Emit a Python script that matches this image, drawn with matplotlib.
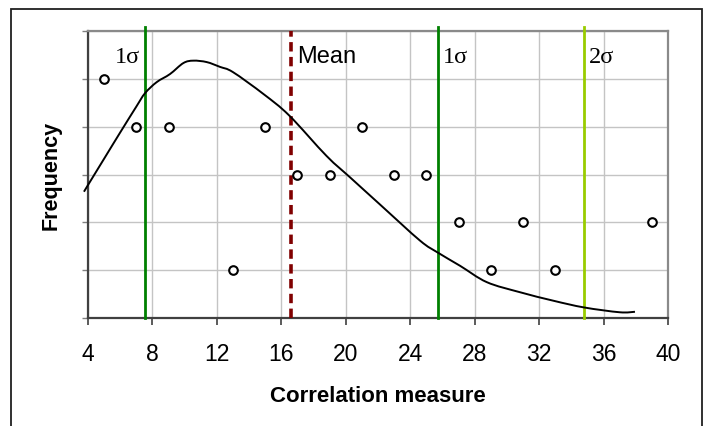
import matplotlib
matplotlib.use("Agg")
import matplotlib.pyplot as plt
from matplotlib.patches import Rectangle, PathPatch
from matplotlib.path import Path

# Observed frequencies of the correlation measure
measure = [5, 7, 9, 13, 15, 17, 19, 21, 23, 25, 27, 29, 31, 33, 39]
frequency = [5, 4, 4, 1, 4, 3, 3, 4, 3, 3, 2, 1, 2, 1, 2]

# Fitted distribution (drawn as a smoothed line)
curve_x = [3.75, 4, 5, 6, 7, 7.54, 8.26, 9.09, 9.92, 10.54, 11.37, 12.19, 13.0, 14.9, 16.5,
           18.8, 20.3, 22.1, 24.6, 25.7, 27.1, 28.75, 30.8, 32.9, 34.8, 37.0, 37.95]
curve_y = [2.64, 2.78, 3.33, 3.88, 4.42, 4.70, 4.93, 5.10, 5.33, 5.38, 5.35, 5.25, 5.14, 4.68, 4.23,
           3.39, 2.93, 2.38, 1.62, 1.37, 1.09, 0.75, 0.54, 0.36, 0.22, 0.12, 0.13]

# Reference markers: mean and sigma bands
mean_x = 16.6
sigma_lines = [7.55, 25.75]
two_sigma_x = 34.8

x_ticks = [4, 8, 12, 16, 20, 24, 28, 32, 36, 40]
y_ticks = [0, 1, 2, 3, 4, 5, 6]


def smooth_path(xs, ys, tension=1 / 6):
    """Bezier path through the points with Catmull-Rom style tangents."""
    pts = list(zip(xs, ys))
    verts = [pts[0]]
    codes = [Path.MOVETO]
    n = len(pts)
    for i in range(n - 1):
        p0 = pts[i - 1] if i > 0 else pts[i]
        p1 = pts[i]
        p2 = pts[i + 1]
        p3 = pts[i + 2] if i + 2 < n else pts[i + 1]
        c1 = (p1[0] + (p2[0] - p0[0]) * tension, p1[1] + (p2[1] - p0[1]) * tension)
        c2 = (p2[0] - (p3[0] - p1[0]) * tension, p2[1] - (p3[1] - p1[1]) * tension)
        verts += [c1, c2, p2]
        codes += [Path.CURVE4] * 3
    return Path(verts, codes)


W, H = 704, 427
fig = plt.figure(figsize=(W / 100, H / 100), dpi=100)
fig.patch.set_facecolor("white")

# Chart-area frame
fig.patches.append(Rectangle((11 / W, -0.05), (702 - 11) / W, (H - 10) / H + 0.05,
                             transform=fig.transFigure, fill=False,
                             edgecolor="#202020", linewidth=1.3))

ax = fig.add_axes([88 / W, (H - 319) / H, (668 - 88) / W, (319 - 32) / H])
ax.set_xlim(4, 40)
ax.set_ylim(0, 6)
ax.set_xticks(x_ticks)
ax.set_yticks(y_ticks)
ax.set_yticklabels([])
ax.grid(True, color="#c4c4c4", linewidth=1.0)
ax.set_axisbelow(True)

for side in ("left", "bottom"):
    ax.spines[side].set_color("#404040")
    ax.spines[side].set_linewidth(1.6)
for side in ("top", "right"):
    ax.spines[side].set_color("#8a8a8a")
    ax.spines[side].set_linewidth(1.6)

ax.tick_params(axis="x", direction="out", length=5, width=1.2, color="#404040",
               labelsize=16.5, pad=12)
ax.tick_params(axis="y", direction="out", length=4, width=1.0, color="#808080")
for lab in ax.get_xticklabels():
    lab.set_family("Liberation Sans")

# Vertical reference lines
top = 6.09
for sx in sigma_lines:
    ax.plot([sx, sx], [0, top], color="#008000", linewidth=2.0, clip_on=False, zorder=3)
ax.plot([two_sigma_x, two_sigma_x], [0, top], color="#99cc00", linewidth=2.0,
        clip_on=False, zorder=3)
ax.plot([mean_x, mean_x], [0, 6], color="#800000", linewidth=2.6,
        dashes=(2.6, 1.5), zorder=3)

# Fitted curve and observed points
ax.add_patch(PathPatch(smooth_path(curve_x, curve_y), facecolor="none",
                       edgecolor="black", linewidth=1.4, zorder=4, clip_on=False))
ax.plot(measure, frequency, linestyle="none", marker="o", markersize=6.2,
        markerfacecolor="white", markeredgecolor="black", markeredgewidth=1.5, zorder=5)

# Band labels
label_y = 5.35
serif = dict(family="Liberation Serif", fontsize=17.5, va="baseline", ha="left")
ax.text(5.68, label_y, "1σ", **serif)
ax.text(26.0, label_y, "1σ", **serif)
ax.text(35.1, label_y, "2σ", **serif)
ax.text(17.0, label_y, "Mean", family="Liberation Sans", fontsize=17,
        va="baseline", ha="left")

ax.set_xlabel("Correlation measure", family="Liberation Sans", fontsize=16,
              fontweight="bold", va="center")
ax.xaxis.set_label_coords(0.5, (319 - 397) / 287)
ax.set_ylabel("Frequency", family="Liberation Sans", fontsize=15.5,
              fontweight="bold", va="center")
ax.yaxis.set_label_coords((51 - 88) / 580, 0.5)

fig.savefig("out.png", dpi=100)
